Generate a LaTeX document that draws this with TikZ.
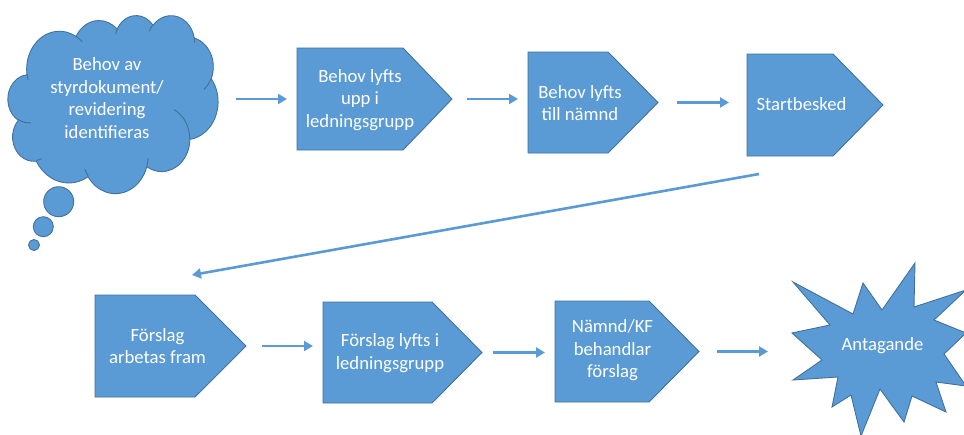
\documentclass[tikz,border=0pt]{standalone}
\usepackage{fontspec}
\setmainfont{Carlito}
\usetikzlibrary{arrows.meta,calc}
\definecolor{myblue}{HTML}{5B9BD5}
\definecolor{myborder}{HTML}{41719C}
\tikzset{
  shp/.style={fill=myblue, draw=myborder, line width=0.9pt, line join=miter},
  arr/.style={draw=myblue, line width=2.6pt, -{Triangle[length=9pt,width=10pt]}},
  lbl/.style={text=white, font=\fontsize{18.7}{22.5}\selectfont, align=center, inner sep=0pt},
  frame/.style={inner sep=0pt, outer sep=0pt, draw=none},
}
\newcommand\plate[2]{%
  \filldraw[shp] (#1.north west) -- ([xshift=-#2pt]#1.north east) -- (#1.east)
    -- ([xshift=-#2pt]#1.south east) -- (#1.south west) -- cycle;}
\begin{document}
\begin{tikzpicture}[x=1pt,y=-1pt]
\fill[white] (0,0) rectangle (964,434);
\useasboundingbox (0,0) rectangle (964,434);

% frames (nodes) for shapes
\node[frame, minimum width=210pt, minimum height=178pt] (cloud) at (113,104) {};
\node[frame, minimum width=155pt, minimum height=102pt] (b1) at (374.5,99) {};
\node[frame, minimum width=130pt, minimum height=101pt] (b2) at (593,102.5) {};
\node[frame, minimum width=136pt, minimum height=102pt] (b3) at (815,105) {};
\node[frame, minimum width=151pt, minimum height=102pt] (b4) at (170.5,346) {};
\node[frame, minimum width=159pt, minimum height=101pt] (b5) at (402.5,352.5) {};
\node[frame, minimum width=144pt, minimum height=101pt] (b6) at (627,351.5) {};
\node[frame, minimum width=175pt, minimum height=173pt] (star) at (878.5,349.5) {};

% cloud outline (Office cloud geometry)
\begin{scope}[shift={(8,15)}, xscale=210/432, yscale=-178/432]
\filldraw[shp] (39.00pt,143.70pt)
  arc[x radius=67.53pt, y radius=91.90pt, start angle=-187.75, end angle=-59.64]
  arc[x radius=53.33pt, y radius=72.67pt, start angle=-152.02, end angle=-45.44]
  arc[x radius=43.65pt, y radius=59.45pt, start angle=-153.48, end angle=-37.32]
  arc[x radius=48.57pt, y radius=65.95pt, start angle=-139.71, end angle=-10.22]
  arc[x radius=53.33pt, y radius=72.73pt, start angle=-74.77, end angle=23.22]
  arc[x radius=67.75pt, y radius=92.20pt, start angle=-37.53, end angle=81.86]
  arc[x radius=57.85pt, y radius=78.67pt, start angle=0.46, end angle=121.98]
  arc[x radius=67.52pt, y radius=92.15pt, start angle=16.84, end angle=146.24]
  arc[x radius=77.20pt, y radius=105.43pt, start angle=58.99, end angle=150.18]
  arc[x radius=43.60pt, y radius=59.18pt, start angle=83.31, end angle=223.12]
  arc[x radius=43.45pt, y radius=59.45pt, start angle=120.36, end angle=264.11]
  -- cycle;
\draw[draw=myborder, line width=0.9pt]
  (46.93pt,261.77pt) arc[x radius=43.45pt, y radius=59.45pt, start angle=85.54, end angle=120.36]
  (69.28pt,348.99pt) arc[x radius=43.60pt, y radius=59.18pt, start angle=68.23, end angle=83.31]
  (164.78pt,390.90pt) arc[x radius=67.52pt, y radius=92.15pt, start angle=146.24, end angle=158.47]
  (288.27pt,347.51pt) arc[x radius=67.52pt, y radius=92.15pt, start angle=4.74, end angle=16.84]
  (341.29pt,229.54pt) arc[x radius=57.85pt, y radius=78.67pt, start angle=-64.03, end angle=0.46]
  (417.98pt,153.54pt) arc[x radius=53.33pt, y radius=72.73pt, start angle=23.22, end angle=49.65]
  (383.24pt,54.26pt) arc[x radius=48.57pt, y radius=65.95pt, start angle=-10.22, end angle=0.82]
  (290.78pt,39.52pt) arc[x radius=48.57pt, y radius=65.95pt, start angle=-156.28, end angle=-139.71]
  (221.41pt,47.20pt) arc[x radius=43.65pt, y radius=59.45pt, start angle=-167.72, end angle=-153.48]
  (140.00pt,51.92pt) arc[x radius=67.53pt, y radius=91.90pt, start angle=-59.64, end angle=-45.74]
  (41.27pt,157.89pt) arc[x radius=67.53pt, y radius=91.90pt, start angle=166.61, end angle=175.72];
\end{scope}
% thought bubbles
\filldraw[shp] (58.7,201.7) circle (15pt);
\filldraw[shp] (43.3,226.7) circle (10pt);
\filldraw[shp] (34,245) circle (5.5pt);

% pentagons
\plate{b1}{49}
\plate{b2}{50}
\plate{b3}{50}
\plate{b4}{51}
\plate{b5}{50}
\plate{b6}{50}

% star
\filldraw[shp] (793,282) -- (853,314) -- (863,283) -- (882,310) -- (915,263) -- (914,307)
  -- (966,290) -- (934,320) -- (966,333) -- (944,354) -- (966,386) -- (936,382)
  -- (946,412) -- (912,396) -- (904,422) -- (880,389) -- (861,436) -- (851,395)
  -- (832,407) -- (838,377) -- (793,380) -- (822,360) -- (792,333) -- (830,325) -- cycle;

% texts
\node[lbl] (tc) at (107,98) {Behov av\\styrdokument/\\revidering\\identifieras};
\node[lbl] (t1) at (360,100) {Behov lyfts\\upp i\\ledningsgrupp};
\node[lbl] (t2) at (580,103) {Behov lyfts\\till nämnd};
\node[lbl] (t3) at (801.5,104.5) {Startbesked};
\node[lbl] (t4) at (157.5,346) {Förslag\\arbetas fram};
\node[lbl] (t5) at (390,353) {Förslag lyfts i\\ledningsgrupp};
\node[lbl] (t6) at (612.5,350.5) {Nämnd/KF\\behandlar\\förslag};
\node[lbl] (t7) at (882.5,346) {Antagande};

% connectors
\draw[arr, shorten <=18pt, shorten >=10pt] (cloud.east |- b1.west) -- (b1.west);
\draw[arr, shorten <=15pt, shorten >=10pt] (b1.east) -- (b1.east -| b2.west);
\draw[arr, shorten <=19pt, shorten >=18pt] (b2.east) -- (b2.east -| b3.west);
\draw[arr] ($(b3.south west)+(12,18)$) -- ($(b4.north west)+(97,-20)$);
\draw[arr, shorten <=16pt, shorten >=10pt] (b4.east) -- (b4.east -| b5.west);
\draw[arr, shorten <=11pt, shorten >=10pt] (b5.east) -- (b5.east -| b6.west);
\draw[arr, shorten <=18pt, shorten >=23pt] (b6.east) -- (b6.east -| star.west);
\end{tikzpicture}
\end{document}
